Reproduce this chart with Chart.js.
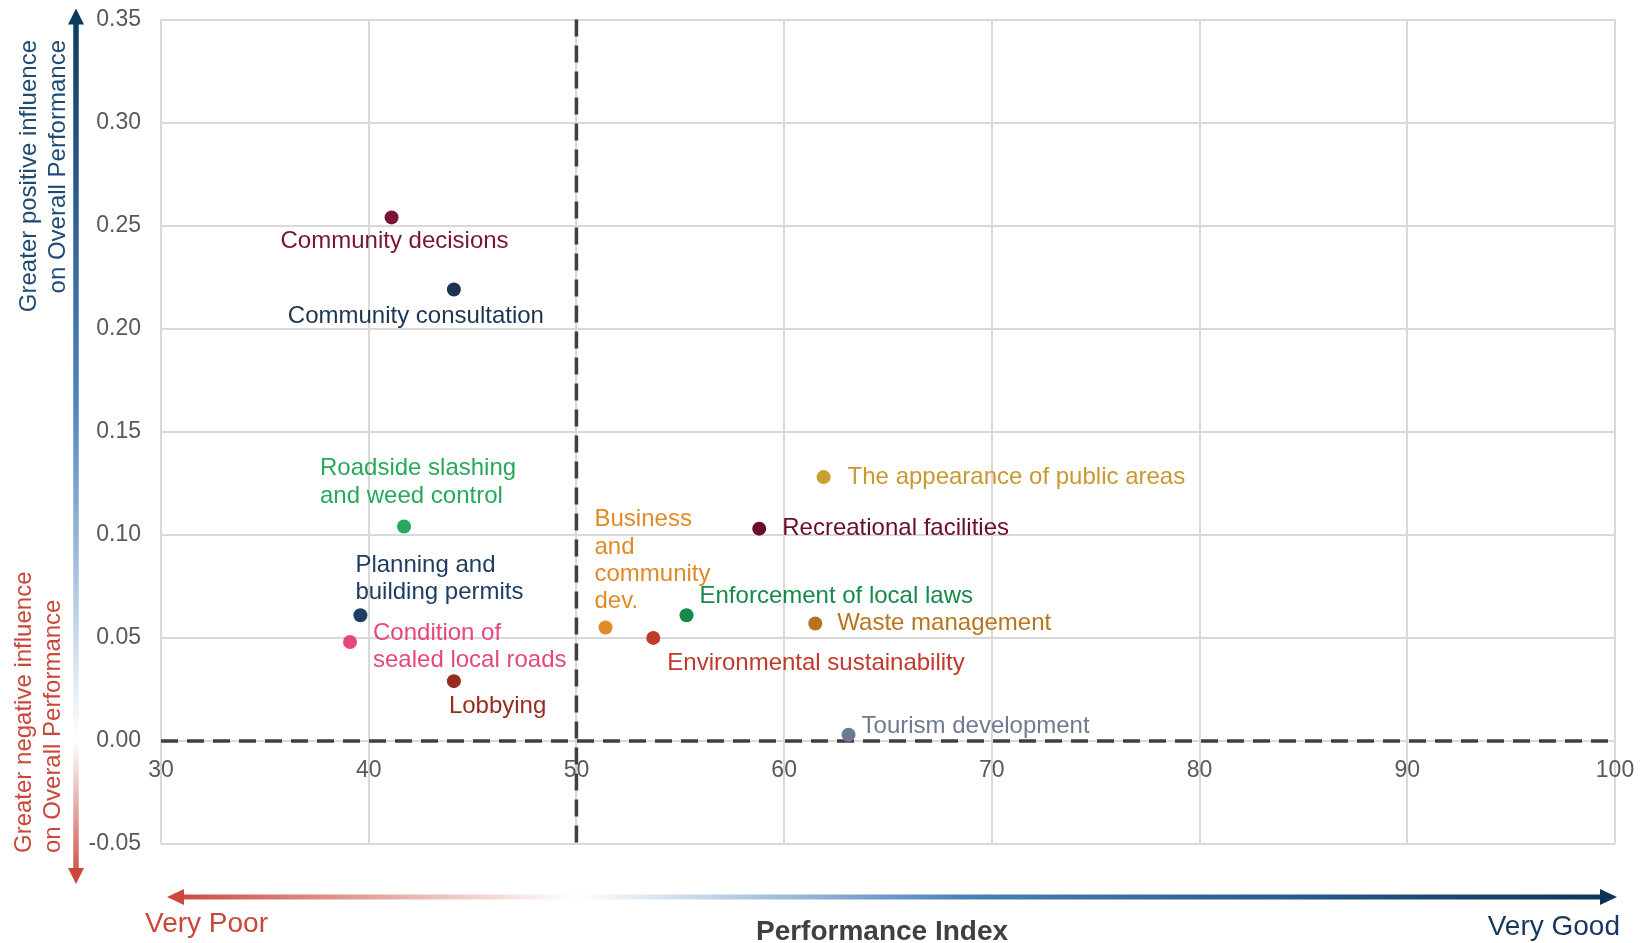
<!DOCTYPE html>
<html>
<head>
<meta charset="utf-8">
<title>Performance Index vs influence on Overall Performance</title>
<script src="https://cdn.jsdelivr.net/npm/chart.js@4.4.1/dist/chart.umd.min.js"></script>
<style>
  html, body { margin: 0; padding: 0; background: #ffffff; }
  canvas { display: block; }
</style>
</head>
<body>
<canvas id="chart" width="1652" height="943" style="width:1652px;height:943px"></canvas>
<script>
// Service areas (multi-line names are given as arrays of lines)
const categories = [
  'Community decisions',
  'Community consultation',
  ['Roadside slashing', 'and weed control'],
  ['Planning and', 'building permits'],
  ['Condition of', 'sealed local roads'],
  'Lobbying',
  ['Business', 'and', 'community', 'dev.'],
  'Environmental sustainability',
  'Enforcement of local laws',
  'Recreational facilities',
  'The appearance of public areas',
  'Waste management',
  'Tourism development'
];

// Performance Index score (x)
const performance = [41.1, 44.1, 41.7, 39.6, 39.1, 44.1, 51.4, 53.7, 55.3, 58.8, 61.9, 61.5, 63.1];

// Influence on Overall Performance (y)
const influence = [0.254, 0.219, 0.104, 0.061, 0.048, 0.029, 0.055, 0.050, 0.061, 0.103, 0.128, 0.057, 0.003];

// Axis tick values
const xTicks = [30, 40, 50, 60, 70, 80, 90, 100];
const yTicks = [-0.05, 0.00, 0.05, 0.10, 0.15, 0.20, 0.25, 0.30, 0.35];

// Reference lines (performance mid-point, zero influence)
const refX = 50;
const refY = 0;

// Colours per service area
const pointColors = ['#7a1437', '#1d3550', '#27a85a', '#1e3d62', '#e6457e', '#9a2a1f',
                     '#e08a28', '#c0392b', '#17894a', '#6a0d2c', '#caa035', '#b8741e', '#6e7b8d'];
const labelColors = ['#7a1437', '#1d3550', '#27a85a', '#1e3d62', '#e6457e', '#9a2a1f',
                     '#e08a28', '#c0392b', '#17894a', '#6a0d2c', '#c9982f', '#b8741e', '#6e7b8d'];

// Label placement relative to each point: [dx, dy of first line, text alignment]
const labelPlacement = [
  [3, 24, 'center'],
  [-38, 27, 'center'],
  [-84, -58, 'left'],
  [-5, -50, 'left'],
  [23, -9, 'left'],
  [-5, 25, 'left'],
  [-11, -108, 'left'],
  [14, 25, 'left'],
  [13, -19, 'left'],
  [23, 0, 'left'],
  [24, 0, 'left'],
  [22, 0, 'left'],
  [13, -8, 'left']
];

const FONT = '"Liberation Sans", Arial, sans-serif';
const LINE_H = 27.4;

const NAVY = '#0b3a5f';
const RED = '#c9473b';

const decorations = {
  id: 'decorations',
  beforeDatasetsDraw(chart) {
    const { ctx, chartArea: a, scales: { x, y } } = chart;
    ctx.save();
    ctx.strokeStyle = '#404040';
    ctx.lineWidth = 3.5;
    ctx.setLineDash([17, 9]);
    const px = x.getPixelForValue(refX);
    ctx.beginPath();
    ctx.moveTo(px, a.top);
    ctx.lineTo(px, a.bottom);
    ctx.stroke();
    const py = y.getPixelForValue(refY);
    ctx.beginPath();
    ctx.moveTo(a.left, py);
    ctx.lineTo(a.right, py);
    ctx.stroke();
    ctx.restore();
  },
  afterDatasetsDraw(chart) {
    const { ctx } = chart;
    const meta = chart.getDatasetMeta(0);
    ctx.save();
    ctx.font = '24px ' + FONT;
    ctx.textBaseline = 'middle';
    meta.data.forEach((pt, i) => {
      const lines = Array.isArray(categories[i]) ? categories[i] : [categories[i]];
      const [dx, dy, align] = labelPlacement[i];
      ctx.fillStyle = labelColors[i];
      ctx.textAlign = align;
      lines.forEach((line, k) => {
        ctx.fillText(line, pt.x + dx, pt.y + dy + k * LINE_H);
      });
    });
    ctx.restore();
  },
  afterDraw(chart) {
    const { ctx, chartArea: a, scales: { x, y } } = chart;
    ctx.save();

    // Vertical influence arrow
    const ax = a.left - 85;
    const top = a.top - 11;
    const bottom = a.bottom + 40;
    const zeroY = y.getPixelForValue(0);
    const vg = ctx.createLinearGradient(0, top, 0, bottom);
    vg.addColorStop(0, NAVY);
    vg.addColorStop(0.45, '#4f84bd');
    vg.addColorStop((zeroY - top) / (bottom - top), '#ffffff');
    vg.addColorStop(1, RED);
    ctx.fillStyle = vg;
    ctx.fillRect(ax - 2.75, top + 14, 5.5, bottom - top - 28);
    ctx.fillStyle = NAVY;
    ctx.beginPath();
    ctx.moveTo(ax, top); ctx.lineTo(ax - 8, top + 16); ctx.lineTo(ax + 8, top + 16); ctx.closePath();
    ctx.fill();
    ctx.fillStyle = RED;
    ctx.beginPath();
    ctx.moveTo(ax, bottom); ctx.lineTo(ax - 8, bottom - 16); ctx.lineTo(ax + 8, bottom - 16); ctx.closePath();
    ctx.fill();

    // Horizontal performance arrow
    const hy = a.bottom + 53;
    const left = a.left + 6;
    const right = a.right + 2;
    const midX = x.getPixelForValue(refX);
    const hg = ctx.createLinearGradient(left, 0, right, 0);
    hg.addColorStop(0, RED);
    hg.addColorStop((midX - left) / (right - left), '#ffffff');
    hg.addColorStop(0.55, '#4a80ba');
    hg.addColorStop(1, '#0a3558');
    ctx.fillStyle = hg;
    ctx.fillRect(left + 14, hy - 2.5, right - left - 28, 5);
    ctx.fillStyle = RED;
    ctx.beginPath();
    ctx.moveTo(left, hy); ctx.lineTo(left + 17, hy - 8); ctx.lineTo(left + 17, hy + 8); ctx.closePath();
    ctx.fill();
    ctx.fillStyle = '#0a3558';
    ctx.beginPath();
    ctx.moveTo(right, hy); ctx.lineTo(right - 17, hy - 8); ctx.lineTo(right - 17, hy + 8); ctx.closePath();
    ctx.fill();

    // Axis captions
    ctx.textBaseline = 'alphabetic';
    ctx.font = '28px ' + FONT;
    ctx.fillStyle = RED;
    ctx.textAlign = 'left';
    ctx.fillText('Very Poor', a.left - 16, 932);
    ctx.fillStyle = '#17375e';
    ctx.textAlign = 'right';
    ctx.fillText('Very Good', a.right + 5, 935);
    ctx.font = 'bold 28px ' + FONT;
    ctx.fillStyle = '#404040';
    ctx.textAlign = 'center';
    ctx.fillText('Performance Index', 882, 940);

    // Rotated influence captions
    ctx.font = '24px ' + FONT;
    ctx.textBaseline = 'middle';
    const rot = (text, cx, cy, align, color) => {
      ctx.save();
      ctx.translate(cx, cy);
      ctx.rotate(-Math.PI / 2);
      ctx.textAlign = align;
      ctx.fillStyle = color;
      ctx.fillText(text, 0, 0);
      ctx.restore();
    };
    rot('Greater positive influence', 29, 40, 'right', '#1f4a72');
    rot('on Overall Performance', 58, 40, 'right', '#1f4a72');
    rot('Greater negative influence', 24, 853, 'left', RED);
    rot('on Overall Performance', 53, 853, 'left', RED);

    ctx.restore();
  }
};

const gridStyle = { color: '#d9d9d9', lineWidth: 2, drawTicks: false };

new Chart(document.getElementById('chart'), {
  type: 'scatter',
  data: {
    datasets: [{
      data: performance.map((v, i) => ({ x: v, y: influence[i] })),
      backgroundColor: pointColors,
      borderColor: pointColors,
      borderWidth: 0,
      pointRadius: 7,
      pointHoverRadius: 7
    }]
  },
  options: {
    responsive: false,
    animation: false,
    events: [],
    layout: { padding: { top: 19.5, right: 37, bottom: 99, left: 0 } },
    plugins: { legend: { display: false }, tooltip: { enabled: false } },
    scales: {
      x: {
        type: 'linear',
        min: xTicks[0],
        max: xTicks[xTicks.length - 1],
        position: { y: refY },
        afterBuildTicks: s => { s.ticks = xTicks.map(v => ({ value: v })); },
        ticks: { color: '#595959', font: { size: 23, family: FONT }, padding: 16, maxRotation: 0 },
        grid: gridStyle,
        border: { display: false }
      },
      y: {
        type: 'linear',
        min: yTicks[0],
        max: yTicks[yTicks.length - 1],
        afterBuildTicks: s => { s.ticks = yTicks.map(v => ({ value: v })); },
        afterFit: s => { s.width = 161; s.paddingTop = 0; s.paddingBottom = 0; },
        ticks: {
          color: '#595959',
          font: { size: 23, family: FONT },
          padding: 20,
          callback: v => (Math.abs(v) < 1e-9 ? 0 : v).toFixed(2)
        },
        grid: gridStyle,
        border: { display: false }
      }
    }
  },
  plugins: [decorations]
});
</script>
</body>
</html>
